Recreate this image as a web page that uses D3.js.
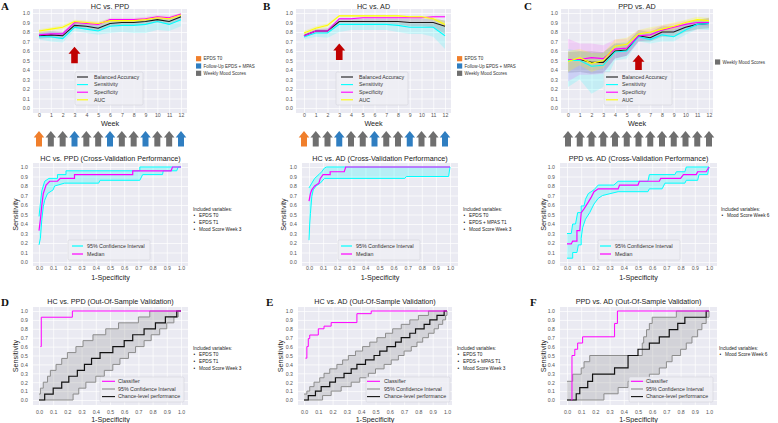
<!DOCTYPE html>
<html><head><meta charset="utf-8">
<script src="https://cdn.jsdelivr.net/npm/d3@7"></script>
<style>body{margin:0;background:#fff;} svg{display:block;}</style>
</head><body><svg id="c" width="778" height="423"></svg>
<script>
// ---------------- DATA ----------------
const weeks = [0,1,2,3,4,5,6,7,8,9,10,11,12];
const unitTicks = [0,0.1,0.2,0.3,0.4,0.5,0.6,0.7,0.8,0.9,1.0];
const topLegendLabels = ["Balanced Accuracy","Sensitivity","Specificity","AUC"];

// A: HC vs. PPD (weekly)
const hcPpdBA   = [0.76,0.77,0.76,0.87,0.86,0.84,0.89,0.90,0.90,0.91,0.93,0.91,0.96];
const hcPpdSens = [0.75,0.75,0.73,0.85,0.83,0.81,0.86,0.87,0.87,0.88,0.91,0.88,0.93];
const hcPpdSpec = [0.77,0.78,0.78,0.90,0.89,0.88,0.93,0.93,0.93,0.94,0.96,0.95,0.99];
const hcPpdAUC  = [0.81,0.83,0.85,0.91,0.90,0.89,0.92,0.92,0.92,0.93,0.95,0.94,0.98];
const hcPpdBALo = [0.73,0.74,0.73,0.84,0.83,0.81,0.86,0.87,0.87,0.88,0.90,0.88,0.93];
const hcPpdBAHi = [0.80,0.81,0.80,0.90,0.89,0.87,0.92,0.93,0.93,0.94,0.95,0.94,0.98];
const hcPpdSensLo = [0.72,0.70,0.69,0.81,0.79,0.77,0.79,0.80,0.79,0.79,0.82,0.81,0.86];
const hcPpdSensHi = [0.79,0.80,0.79,0.89,0.88,0.86,0.90,0.91,0.91,0.92,0.94,0.92,0.97];
const hcPpdSpecLo = [0.75,0.76,0.76,0.88,0.87,0.86,0.91,0.91,0.91,0.92,0.94,0.93,0.97];
const hcPpdSpecHi = [0.79,0.80,0.80,0.92,0.91,0.90,0.95,0.95,0.95,0.96,0.98,0.97,1.00];
const hcPpdAUCLo = [0.79,0.81,0.83,0.89,0.88,0.87,0.90,0.90,0.90,0.91,0.93,0.92,0.96];
const hcPpdAUCHi = [0.83,0.85,0.87,0.93,0.92,0.91,0.94,0.94,0.94,0.95,0.97,0.96,1.00];

// B: HC vs. AD (weekly)
const hcAdBA   = [0.76,0.81,0.81,0.91,0.91,0.91,0.91,0.91,0.91,0.90,0.90,0.90,0.86];
const hcAdSens = [0.75,0.79,0.79,0.88,0.88,0.88,0.88,0.88,0.87,0.85,0.85,0.85,0.76];
const hcAdSpec = [0.76,0.81,0.81,0.94,0.94,0.95,0.95,0.95,0.95,0.95,0.95,0.96,0.96];
const hcAdAUC  = [0.79,0.84,0.87,0.97,0.97,0.97,0.97,0.97,0.97,0.96,0.96,0.94,0.88];
const hcAdBALo = [0.74,0.79,0.79,0.89,0.89,0.89,0.89,0.89,0.88,0.86,0.86,0.85,0.78];
const hcAdBAHi = [0.78,0.83,0.84,0.94,0.94,0.94,0.94,0.94,0.94,0.94,0.94,0.94,0.92];
const hcAdSensLo = [0.72,0.75,0.74,0.80,0.82,0.82,0.82,0.82,0.80,0.78,0.78,0.75,0.62];
const hcAdSensHi = [0.78,0.82,0.82,0.90,0.90,0.90,0.90,0.90,0.90,0.89,0.89,0.89,0.85];
const hcAdSpecLo = [0.74,0.79,0.79,0.93,0.93,0.94,0.94,0.94,0.94,0.94,0.94,0.95,0.95];
const hcAdSpecHi = [0.78,0.83,0.83,0.95,0.95,0.96,0.96,0.96,0.96,0.96,0.96,0.97,0.97];
const hcAdAUCLo = [0.77,0.82,0.85,0.96,0.96,0.96,0.96,0.96,0.96,0.95,0.95,0.92,0.85];
const hcAdAUCHi = [0.81,0.86,0.89,0.98,0.98,0.98,0.98,0.98,0.98,0.97,0.97,0.96,0.91];

// C: PPD vs. AD (weekly)
const ppdAdBA   = [0.50,0.51,0.48,0.48,0.60,0.61,0.76,0.74,0.80,0.80,0.85,0.88,0.89];
const ppdAdSens = [0.50,0.50,0.44,0.45,0.59,0.60,0.75,0.72,0.77,0.75,0.82,0.88,0.89];
const ppdAdSpec = [0.51,0.51,0.53,0.52,0.62,0.63,0.76,0.77,0.82,0.85,0.88,0.90,0.90];
const ppdAdAUC  = [0.49,0.53,0.47,0.50,0.65,0.67,0.78,0.80,0.83,0.86,0.90,0.93,0.92];
const ppdAdBALo = [0.37,0.38,0.36,0.37,0.52,0.55,0.70,0.70,0.75,0.75,0.80,0.83,0.84];
const ppdAdBAHi = [0.59,0.60,0.60,0.59,0.68,0.68,0.82,0.80,0.86,0.86,0.89,0.93,0.95];
const ppdAdSensLo = [0.22,0.30,0.15,0.22,0.50,0.52,0.70,0.68,0.70,0.70,0.77,0.83,0.82];
const ppdAdSensHi = [0.62,0.60,0.58,0.58,0.68,0.70,0.80,0.78,0.84,0.82,0.88,0.93,0.93];
const ppdAdSpecLo = [0.28,0.35,0.35,0.36,0.52,0.55,0.70,0.72,0.78,0.80,0.84,0.86,0.86];
const ppdAdSpecHi = [0.73,0.68,0.68,0.66,0.72,0.73,0.82,0.83,0.87,0.89,0.92,0.93,0.94];
const ppdAdAUCLo = [0.38,0.45,0.38,0.42,0.58,0.60,0.74,0.75,0.79,0.82,0.87,0.90,0.89];
const ppdAdAUCHi = [0.60,0.62,0.58,0.58,0.72,0.74,0.82,0.85,0.87,0.90,0.93,0.96,0.95];

// Red "best week" arrows: [week, tip value, base value]
const bestArrowA = [3, 0.645, 0.47];
const bestArrowB = [3, 0.68, 0.505];
const bestArrowC = [6, 0.56, 0.40];

// Weekly assessment types
const weekTypesAB = ["T0","W","W","F","W","W","F","W","W","F","W","W","F"];
const weekTypesC  = ["W","W","W","W","W","W","W","W","W","W","W","W","W"];
const typeLabelsAB = ["EPDS T0","Follow-Up EPDS + MPAS","Weekly Mood Scores"];
const typeKeysAB = ["T0","F","W"];
const typeLabelsC = ["Weekly Mood Scores"];
const typeKeysC = ["W"];

// Included variables
const varsA = ["EPDS T0","EPDS T1","Mood Score Week 3"];
const varsB = ["EPDS T0","EPDS + MPAS T1","Mood Score Week 3"];
const varsC = ["Mood Score Week 6"];

// Cross-validation ROC ([1-specificity, sensitivity])
const cvHcPpdUpper = [[0,0.48],[0.01,0.62],[0.02,0.75],[0.04,0.85],[0.07,0.88],[0.13,0.88],[0.13,0.92],[0.19,0.92],[0.19,0.96],[0.71,0.96],[0.71,1.0],[1,1]];
const cvHcPpdLower = [[0,0.18],[0.01,0.25],[0.02,0.45],[0.03,0.58],[0.04,0.65],[0.06,0.72],[0.1,0.76],[0.11,0.8],[0.18,0.83],[0.42,0.83],[0.43,0.86],[0.71,0.86],[0.73,0.92],[0.87,0.92],[0.875,0.96],[0.97,0.96],[0.98,1.0],[1,1]];
const cvHcPpdMedian = [[0,0.33],[0.01,0.45],[0.02,0.6],[0.03,0.72],[0.05,0.81],[0.075,0.85],[0.13,0.85],[0.15,0.88],[0.25,0.88],[0.25,0.92],[0.66,0.92],[0.66,0.96],[0.93,0.96],[0.94,1.0],[1,1]];

const cvHcAdUpper = [[0,0.78],[0.02,0.83],[0.04,0.88],[0.07,0.92],[0.09,0.95],[0.11,0.99],[0.125,1.0],[1,1]];
const cvHcAdLower = [[0,0.23],[0.005,0.4],[0.01,0.51],[0.02,0.69],[0.03,0.76],[0.05,0.8],[0.08,0.83],[0.11,0.88],[0.68,0.88],[0.69,0.9],[0.99,0.9],[1,1]];
const cvHcAdMedian = [[0,0.64],[0.01,0.72],[0.02,0.76],[0.04,0.8],[0.07,0.83],[0.08,0.88],[0.1,0.92],[0.15,0.92],[0.15,0.95],[0.25,0.95],[0.26,1.0],[1,1]];

const cvPpdAdUpper = [[0,0.3],[0.03,0.3],[0.04,0.4],[0.06,0.4],[0.075,0.52],[0.1,0.52],[0.1,0.59],[0.12,0.59],[0.13,0.66],[0.15,0.72],[0.17,0.74],[0.19,0.76],[0.22,0.81],[0.33,0.81],[0.36,0.85],[0.57,0.85],[0.58,0.92],[0.76,0.92],[0.77,0.95],[0.83,0.95],[0.84,1.0],[1,1]];
const cvPpdAdLower = [[0,0.04],[0.04,0.04],[0.04,0.1],[0.07,0.1],[0.08,0.18],[0.1,0.18],[0.1,0.25],[0.11,0.36],[0.13,0.45],[0.16,0.52],[0.19,0.61],[0.22,0.67],[0.25,0.7],[0.36,0.74],[0.57,0.74],[0.58,0.77],[0.67,0.77],[0.69,0.83],[0.83,0.83],[0.84,0.86],[0.92,0.86],[0.93,0.92],[0.99,0.92],[1,1]];
const cvPpdAdMedian = [[0,0.19],[0.03,0.19],[0.04,0.22],[0.07,0.22],[0.07,0.33],[0.09,0.33],[0.1,0.52],[0.12,0.56],[0.15,0.63],[0.17,0.68],[0.19,0.74],[0.22,0.77],[0.36,0.77],[0.37,0.81],[0.5,0.81],[0.51,0.85],[0.65,0.85],[0.66,0.88],[0.8,0.88],[0.82,0.92],[0.91,0.92],[0.92,0.95],[0.98,0.95],[1,1]];

// Out-of-sample ROC (step points [1-specificity, sensitivity])
const oosHcPpdClf = [[0.01,0.6],[0.016,0.93],[0.235,1.0],[1,1]];
const oosHcPpdChance = [[0,0],[0.04,0.067],[0.1,0.133],[0.16,0.2],[0.21,0.267],[0.27,0.333],[0.32,0.4],[0.37,0.467],[0.43,0.533],[0.52,0.6],[0.6,0.667],[0.66,0.733],[0.74,0.8],[0.82,0.867],[0.89,0.933],[0.97,1.0],[1,1]];
const oosHcPpdUpper = [[0,0.067],[0.01,0.133],[0.03,0.2],[0.06,0.267],[0.08,0.333],[0.12,0.4],[0.16,0.467],[0.2,0.533],[0.26,0.6],[0.31,0.667],[0.38,0.733],[0.47,0.8],[0.56,0.867],[0.7,0.933],[0.78,1.0],[1,1]];
const oosHcPpdLower = [[0,0],[0.24,0.067],[0.28,0.133],[0.33,0.2],[0.4,0.267],[0.46,0.333],[0.52,0.4],[0.57,0.467],[0.63,0.533],[0.68,0.6],[0.74,0.667],[0.79,0.733],[0.85,0.8],[0.9,0.867],[0.95,0.933],[0.98,1.0],[1,1]];

const oosHcAdClf = [[0.01,0.47],[0.02,0.6],[0.03,0.69],[0.04,0.73],[0.1,0.8],[0.14,0.83],[0.19,0.87],[0.37,0.97],[0.47,1.0],[1,1]];
const oosHcAdChance = [[0,0],[0.03,0.05],[0.08,0.1],[0.12,0.15],[0.18,0.2],[0.22,0.25],[0.28,0.3],[0.33,0.35],[0.37,0.4],[0.43,0.45],[0.49,0.5],[0.53,0.55],[0.58,0.6],[0.64,0.65],[0.68,0.7],[0.74,0.75],[0.78,0.8],[0.84,0.85],[0.88,0.9],[0.93,0.95],[0.98,1.0],[1,1]];
const oosHcAdUpper = [[0,0.067],[0.02,0.1],[0.04,0.15],[0.07,0.2],[0.11,0.25],[0.14,0.3],[0.18,0.35],[0.23,0.4],[0.27,0.45],[0.31,0.5],[0.36,0.55],[0.41,0.6],[0.46,0.65],[0.51,0.7],[0.57,0.75],[0.62,0.8],[0.68,0.85],[0.74,0.9],[0.8,0.95],[0.87,1.0],[1,1]];
const oosHcAdLower = [[0,0],[0.13,0.05],[0.19,0.1],[0.26,0.15],[0.33,0.2],[0.39,0.25],[0.45,0.3],[0.5,0.35],[0.56,0.4],[0.61,0.45],[0.66,0.5],[0.7,0.55],[0.75,0.6],[0.79,0.65],[0.83,0.7],[0.87,0.75],[0.91,0.8],[0.94,0.85],[0.97,0.9],[0.99,0.95],[1,1]];

const oosPpdAdClf = [[0.03,0],[0.035,0.5],[0.055,0.57],[0.075,0.64],[0.11,0.71],[0.335,0.86],[0.355,1.0],[1,1]];
const oosPpdAdChance = [[0,0],[0.065,0.07],[0.09,0.14],[0.146,0.21],[0.18,0.29],[0.335,0.36],[0.43,0.5],[0.5,0.57],[0.58,0.64],[0.65,0.71],[0.72,0.79],[0.78,0.86],[0.83,0.93],[0.98,1.0],[1,1]];
const oosPpdAdUpper = [[0,0.21],[0.04,0.29],[0.1,0.36],[0.12,0.43],[0.16,0.5],[0.53,0.64],[0.54,0.71],[0.56,0.79],[0.58,0.86],[0.6,0.93],[0.77,1.0],[1,1]];
const oosPpdAdLower = [[0,0],[0.26,0.07],[0.36,0.14],[0.43,0.21],[0.58,0.29],[0.65,0.36],[0.7,0.43],[0.74,0.5],[0.8,0.57],[0.84,0.64],[0.88,0.71],[0.92,0.79],[0.95,0.86],[0.98,0.93],[1.0,1.0]];

// ---------------- DRAWING ----------------
const FONT = "'Liberation Sans', Arial, Helvetica, sans-serif";
const svg = d3.select("#c").attr("font-family", FONT);
const BG = "#eaeaf2";
const C_CYAN = "#00ffff", C_MAG = "#ff00ff", C_YEL = "#ffff00", C_BLK = "#1a1a1a";
const typeColor = {T0:"#f07f2c", F:"#2f7ec1", W:"#6f6f6f"};
const fmt1 = d3.format(".1f");

function frame(cfg, xTicks, xFmt) {
  const g = svg.append("g");
  const x = d3.scaleLinear().domain(cfg.xd).range([cfg.x0, cfg.x1]);
  const y = d3.scaleLinear().domain([0,1]).range([cfg.yb, cfg.yt]);
  g.append("rect").attr("x",cfg.rx0).attr("y",cfg.ry0)
    .attr("width",cfg.rx1-cfg.rx0).attr("height",cfg.ry1-cfg.ry0).attr("fill",BG);
  const gx = g.append("g").attr("transform",`translate(0,${cfg.ry1})`)
    .call(d3.axisBottom(x).tickValues(xTicks).tickSize(-(cfg.ry1-cfg.ry0)).tickFormat(""));
  gx.select(".domain").remove();
  gx.selectAll("line").attr("stroke","#fff").attr("stroke-width",0.7);
  const gy = g.append("g").attr("transform",`translate(${cfg.rx0},0)`)
    .call(d3.axisLeft(y).tickValues(unitTicks).tickSize(-(cfg.rx1-cfg.rx0)).tickFormat(""));
  gy.select(".domain").remove();
  gy.selectAll("line").attr("stroke","#fff").attr("stroke-width",0.7);
  const lx = g.append("g").attr("transform",`translate(0,${cfg.xly})`)
    .call(d3.axisBottom(x).tickValues(xTicks).tickSize(0).tickPadding(0).tickFormat(xFmt));
  lx.select(".domain").remove();
  lx.attr("font-family",FONT).attr("font-size",5.2);
  lx.selectAll("text").attr("y",0).attr("dy","0.35em").attr("fill","#555");
  const ly = g.append("g").attr("transform",`translate(${cfg.rx0-cfg.ypad},0)`)
    .call(d3.axisLeft(y).tickValues(unitTicks).tickSize(0).tickPadding(0).tickFormat(fmt1));
  ly.select(".domain").remove();
  ly.attr("font-family",FONT).attr("font-size",5.2);
  ly.selectAll("text").attr("x",0).attr("dy","0.35em").attr("fill","#555");
  g.append("text").attr("x",(cfg.rx0+cfg.rx1)/2).attr("y",cfg.titleY).attr("text-anchor","middle")
    .attr("dy","0.35em").attr("font-size",7.2).attr("fill","#222").text(cfg.title);
  g.append("text").attr("x",(cfg.rx0+cfg.rx1)/2).attr("y",cfg.xlabY).attr("text-anchor","middle")
    .attr("dy","0.35em").attr("font-size",7.2).attr("fill","#222").text(cfg.xlab);
  if (cfg.ylab) {
    g.append("text").attr("transform",`translate(${cfg.ylabX},${(cfg.ry0+cfg.ry1)/2}) rotate(-90)`)
      .attr("text-anchor","middle").attr("dy","0.35em").attr("font-size",7.2).attr("fill","#222").text(cfg.ylab);
  }
  if (cfg.letter) {
    svg.append("text").attr("x",cfg.letterX).attr("y",cfg.letterY).attr("font-family","'Liberation Serif', 'Times New Roman', serif")
      .attr("font-weight","bold").attr("font-size",11).attr("fill","#111").text(cfg.letter);
  }
  return {g,x,y};
}

function legendBox(g, bx, by, bw, bh, items, rowYs, lx0, lx1, tx, lw) {
  g.append("rect").attr("x",bx).attr("y",by).attr("width",bw).attr("height",bh)
    .attr("rx",1.5).attr("fill","#eeeef4").attr("fill-opacity",0.85).attr("stroke","#cfcfd6").attr("stroke-width",0.5);
  items.forEach((it,i) => {
    g.append("line").attr("x1",lx0).attr("x2",lx1).attr("y1",rowYs[i]).attr("y2",rowYs[i])
      .attr("stroke",it.color).attr("stroke-width",lw);
    g.append("text").attr("x",tx).attr("y",rowYs[i]).attr("dy","0.35em").attr("font-size",5.3)
      .attr("fill","#333").text(it.label);
  });
}

function topPanel(cfg, series, bands, arrow, types, typeLabels, typeKeys, lg) {
  const {g,x,y} = frame(cfg, weeks, d3.format("d"));
  const colors = [C_BLK, C_CYAN, C_MAG, C_YEL];
  const alphas = [0.15, 0.16, 0.12, 0.22];
  const area = d3.area().x((d,i)=>x(weeks[i])).y0(d=>y(d[0])).y1(d=>y(d[1]));
  const line = d3.line().x((d,i)=>x(weeks[i])).y(d=>y(d));
  series.forEach((s,k) => {
    const bd = bands[k][0].map((lo,i)=>[lo,bands[k][1][i]]);
    g.append("path").attr("d",area(bd)).attr("fill",colors[k]).attr("fill-opacity",alphas[k]);
  });
  series.forEach((s,k) => {
    g.append("path").attr("d",line(s)).attr("fill","none").attr("stroke",colors[k]).attr("stroke-width",1.1);
  });
  const ax = x(arrow[0]), tip = y(arrow[1]), base = y(arrow[2]);
  const hh = 7, hw = 6, sw = 3.3;
  g.append("path").attr("d",d3.line()([[ax-sw,base],[ax-sw,tip+hh],[ax-hw,tip+hh],[ax,tip],[ax+hw,tip+hh],[ax+sw,tip+hh],[ax+sw,base]])+"Z")
    .attr("fill","#c00000");
  legendBox(g, lg.bx, 72, lg.bw, 33, topLegendLabels.map((l,i)=>({label:l,color:colors[i]})),
    [77,84.6,92.2,99.8], lg.l0, lg.l1, lg.tx, 1.1);
  types.forEach((t,i) => {
    const cx = x(weeks[i]);
    g.append("path").attr("d",d3.line()([[cx-3,146.5],[cx-3,137.5],[cx-5.3,137.5],[cx,131],[cx+5.3,137.5],[cx+3,137.5],[cx+3,146.5]])+"Z")
      .attr("fill",typeColor[t]);
  });
  const tg = svg.append("g");
  if (cfg.clip) tg.attr("clip-path","url(#"+cfg.clip+")");
  typeLabels.forEach((l,i) => {
    const yy = cfg.typeY0 + i*7.3;
    tg.append("rect").attr("x",cfg.typeX).attr("y",yy-2.6).attr("width",5.2).attr("height",5.2).attr("fill",typeColor[typeKeys[i]]);
    tg.append("text").attr("x",cfg.typeX+7.5).attr("y",yy).attr("dy","0.35em").attr("font-size",4.5).attr("fill","#333").text(l);
  });
}

function vars(xp, yp, list) {
  const g = svg.append("g").attr("font-size",4.7).attr("fill","#222");
  g.append("text").attr("x",xp).attr("y",yp).attr("dy","0.35em").text("Included variables:");
  list.forEach((v,i) => {
    g.append("text").attr("x",xp+0.5).attr("y",yp+6.7*(i+1)).attr("dy","0.35em").text("\u2022");
    g.append("text").attr("x",xp+6).attr("y",yp+6.7*(i+1)).attr("dy","0.35em").text(v);
  });
}

function midPanel(cfg, upper, lower, median, lg, varsList, vx) {
  const {g,x,y} = frame(cfg, unitTicks, fmt1);
  const ln = d3.line().x(d=>x(d[0])).y(d=>y(d[1]));
  const poly = ln(upper) + "L" + ln(lower.slice().reverse()).slice(1) + "Z";
  g.append("path").attr("d",poly).attr("fill",C_CYAN).attr("fill-opacity",0.22);
  g.append("path").attr("d",ln(upper)).attr("fill","none").attr("stroke",C_CYAN).attr("stroke-width",1);
  g.append("path").attr("d",ln(lower)).attr("fill","none").attr("stroke",C_CYAN).attr("stroke-width",1);
  g.append("path").attr("d",ln(median)).attr("fill","none").attr("stroke",C_MAG).attr("stroke-width",1.2);
  legendBox(g, lg.bx, 240, lg.bw, 20, [{label:"95% Confidence Interval",color:C_CYAN},{label:"Median",color:C_MAG}],
    [246,254], lg.l0, lg.l1, lg.tx, 1.2);
  vars(vx, 209, varsList);
}

function botPanel(cfg, clf, chance, upper, lower, lg, varsList, vx) {
  const {g,x,y} = frame(cfg, unitTicks, fmt1);
  const st = d3.line().x(d=>x(d[0])).y(d=>y(d[1])).curve(d3.curveStepAfter);
  const sb = d3.line().x(d=>x(d[0])).y(d=>y(d[1])).curve(d3.curveStepBefore);
  const poly = st(upper) + "L" + sb(lower.slice().reverse()).slice(1) + "Z";
  g.append("path").attr("d",poly).attr("fill","#8a8a8a").attr("fill-opacity",0.25);
  g.append("path").attr("d",st(upper)).attr("fill","none").attr("stroke","#8c8c8c").attr("stroke-width",1);
  g.append("path").attr("d",st(lower)).attr("fill","none").attr("stroke","#8c8c8c").attr("stroke-width",1);
  g.append("path").attr("d",st(chance)).attr("fill","none").attr("stroke","#111").attr("stroke-width",1.2);
  g.append("path").attr("d",st(clf)).attr("fill","none").attr("stroke",C_MAG).attr("stroke-width",1);
  legendBox(g, lg.bx, 377, lg.bw, 25, [{label:"Classifier",color:C_MAG},{label:"95% Confidence Interval",color:"#8c8c8c"},{label:"Chance-level performance",color:"#111"}],
    [381.3,389,396.6], lg.l0, lg.l1, lg.tx, 1.1);
  vars(vx, 348, varsList);
}

svg.append("defs").append("clipPath").attr("id","clipB").append("rect").attr("x",440).attr("y",0).attr("width",80).attr("height",120);

const topBase = {xd:[0,12], yb:108, yt:13, ry0:9, ry1:113, xly:115.5, ypad:3, titleY:6, xlabY:123, xlab:"Week", letterY:10};
topPanel(Object.assign({}, topBase, {rx0:33, rx1:187, x0:39, x1:181, title:"HC vs. PPD", letter:"A", letterX:1, typeX:196, typeY0:58.7}),
  [hcPpdBA,hcPpdSens,hcPpdSpec,hcPpdAUC],
  [[hcPpdBALo,hcPpdBAHi],[hcPpdSensLo,hcPpdSensHi],[hcPpdSpecLo,hcPpdSpecHi],[hcPpdAUCLo,hcPpdAUCHi]],
  bestArrowA, weekTypesAB, typeLabelsAB, typeKeysAB, {bx:75, bw:68, l0:77, l1:88, tx:94});
topPanel(Object.assign({}, topBase, {rx0:296, rx1:451, x0:304, x1:445, title:"HC vs. AD", letter:"B", letterX:263, typeX:457, typeY0:58.7, clip:"clipB"}),
  [hcAdBA,hcAdSens,hcAdSpec,hcAdAUC],
  [[hcAdBALo,hcAdBAHi],[hcAdSensLo,hcAdSensHi],[hcAdSpecLo,hcAdSpecHi],[hcAdAUCLo,hcAdAUCHi]],
  bestArrowB, weekTypesAB, typeLabelsAB, typeKeysAB, {bx:336, bw:72, l0:341, l1:353, tx:359});
topPanel(Object.assign({}, topBase, {rx0:561, rx1:713, x0:568, x1:709, title:"PPD vs. AD", letter:"C", letterX:524, typeX:715, typeY0:62}),
  [ppdAdBA,ppdAdSens,ppdAdSpec,ppdAdAUC],
  [[ppdAdBALo,ppdAdBAHi],[ppdAdSensLo,ppdAdSensHi],[ppdAdSpecLo,ppdAdSpecHi],[ppdAdAUCLo,ppdAdAUCHi]],
  bestArrowC, weekTypesC, typeLabelsC, typeKeysC, {bx:604, bw:68, l0:606, l1:618, tx:622});

const midBase = {xd:[0,1], yb:262, yt:167, ry0:163, ry1:266, xly:268.5, ypad:5, titleY:158, xlabY:277, xlab:"1-Specificity", ylab:"Sensitivity"};
midPanel(Object.assign({}, midBase, {rx0:33, rx1:188, x0:39, x1:181, title:"HC vs. PPD (Cross-Validation Performance)", ylabX:15}),
  cvHcPpdUpper, cvHcPpdLower, cvHcPpdMedian, {bx:68, bw:82, l0:72, l1:83, tx:87}, varsA, 193);
midPanel(Object.assign({}, midBase, {rx0:302, rx1:458, x0:309, x1:450, title:"HC vs. AD (Cross-Validation Performance)", ylabX:283}),
  cvHcAdUpper, cvHcAdLower, cvHcAdMedian, {bx:338, bw:82, l0:341, l1:352, tx:356}, varsB, 463);
midPanel(Object.assign({}, midBase, {rx0:560, rx1:717, x0:567, x1:709, title:"PPD vs. AD (Cross-Validation Performance)", ylabX:543}),
  cvPpdAdUpper, cvPpdAdLower, cvPpdAdMedian, {bx:598, bw:82, l0:600, l1:611, tx:615}, varsC, 721);

const botBase = {xd:[0,1], yb:400, yt:311, ry0:307, ry1:405, xly:412, ypad:5, titleY:301, xlabY:419, xlab:"1-Specificity", ylab:"Sensitivity", letterY:306};
botPanel(Object.assign({}, botBase, {rx0:33, rx1:188, x0:39, x1:181, title:"HC vs. PPD (Out-Of-Sample Validation)", ylabX:15, letter:"D", letterX:1}),
  oosHcPpdClf, oosHcPpdChance, oosHcPpdUpper, oosHcPpdLower, {bx:100, bw:84, l0:102, l1:115, tx:118}, varsA, 193);
botPanel(Object.assign({}, botBase, {rx0:298, rx1:452, x0:304, x1:447, title:"HC vs. AD (Out-Of-Sample Validation)", ylabX:280, letter:"E", letterX:266}),
  oosHcAdClf, oosHcAdChance, oosHcAdUpper, oosHcAdLower, {bx:366, bw:84, l0:367, l1:380, tx:384}, varsB, 457);
botPanel(Object.assign({}, botBase, {rx0:560, rx1:717, x0:567, x1:709, title:"PPD vs. AD (Out-Of-Sample Validation)", ylabX:543, letter:"F", letterX:530}),
  oosPpdAdClf, oosPpdAdChance, oosPpdAdUpper, oosPpdAdLower, {bx:629, bw:84, l0:631, l1:643, tx:646}, varsC, 719);
</script></body></html>
